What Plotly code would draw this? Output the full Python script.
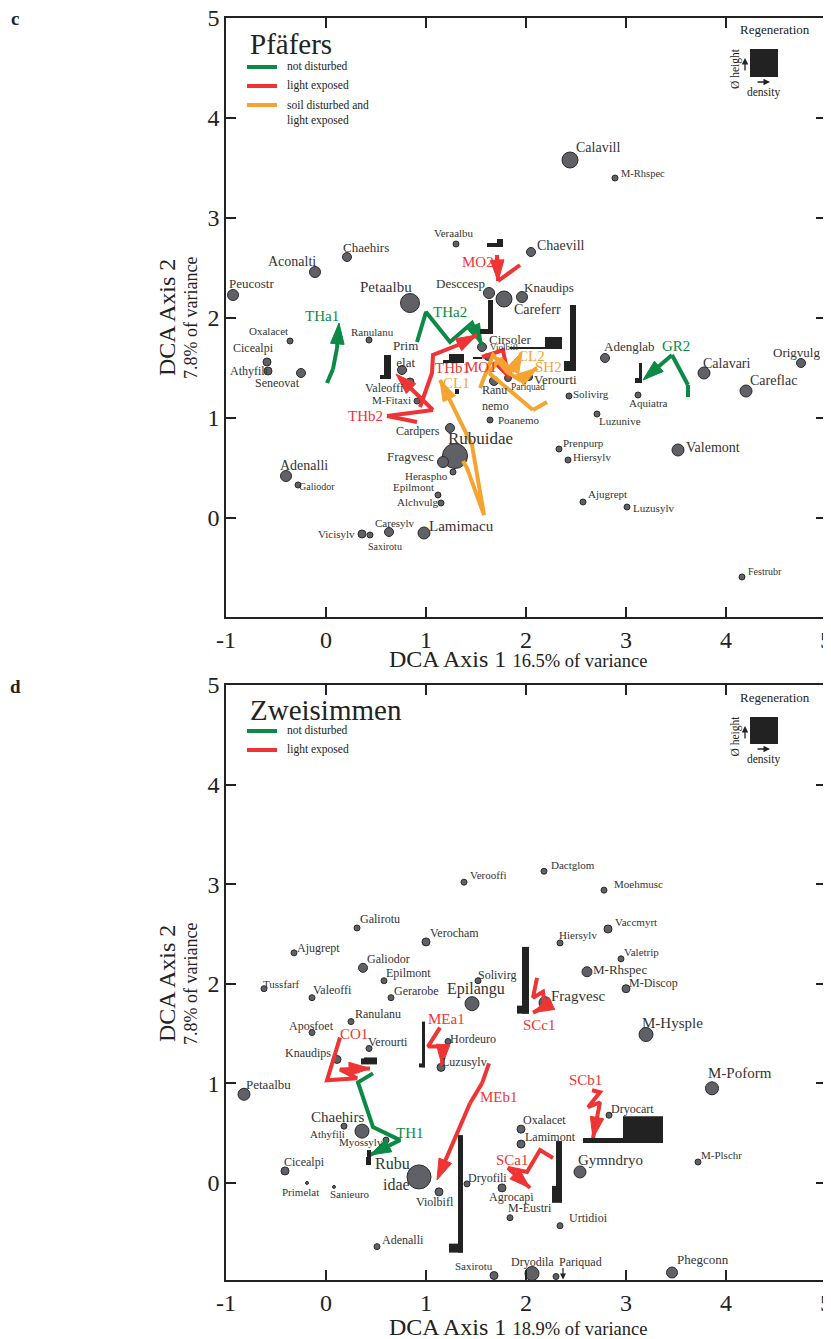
import plotly.graph_objects as go

W, H = 831, 1339          # browser window
OFF = 8                   # default page margin around the plot div
FW, FH = W - OFF, H - OFF # figure size so that it fills the window
SERIF = "Liberation Serif"

# ---------------- tick labels ----------------
tick_vals = [-1, 0, 1, 2, 3, 4, 5]
tick_text = ["-1", "0", "1", "2", "3", "4", "5"]

# ---------------- DATA: panel c (Pfäfers) ----------------
c_species = ["Calavill", "M-Rhspec", "Veraalbu", "Chaevill", "Chaehirs", "Aconalti", "Peucostr",
             "Petaalbu", "Desccesp", "Careferr", "Knaudips", "Oxalacet", "Ranulanu", "Cicealpi",
             "Athyfili", "Seneovat", "Prim<br>elat", "Valeoffi", "M-Fitaxi", "Cirsoler", "Violbifl",
             "Ranu<br>nemo", "Pariquad", "Verourti", "Poanemo", "Solivirg", "Luzunive", "Adenglab",
             "Aquiatra", "Calavari", "Careflac", "Origvulg", "Valemont", "Prenpurp", "Hiersylv",
             "Ajugrept", "Luzusylv", "Festrubr", "Cardpers", "Rubuidae", "Fragvesc", "Heraspho",
             "Epilmont", "Alchvulg", "Lamimacu", "Caresylv", "Saxirotu", "Vicisylv", "Adenalli",
             "Galiodor"]
c_x = [2.44, 2.89, 1.30, 2.05, 0.21, -0.11, -0.93, 0.84, 1.63, 1.78, 1.96, -0.36, 0.43, -0.59,
       -0.58, -0.25, 0.76, 0.84, 0.91, 1.56, 1.62, 1.68, 1.82, 2.03, 1.64, 2.43, 2.71, 2.79,
       3.12, 3.78, 4.20, 4.75, 3.52, 2.33, 2.42, 2.57, 3.01, 4.16, 1.24, 1.29, 1.17, 1.27,
       1.12, 1.15, 0.98, 0.63, 0.44, 0.36, -0.40, -0.28]
c_y = [3.58, 3.40, 2.74, 2.66, 2.61, 2.46, 2.23, 2.15, 2.25, 2.19, 2.21, 1.77, 1.78, 1.56,
       1.47, 1.45, 1.48, 1.36, 1.17, 1.71, 1.61, 1.37, 1.40, 1.41, 0.98, 1.22, 1.04, 1.60,
       1.23, 1.45, 1.27, 1.55, 0.68, 0.69, 0.58, 0.16, 0.11, -0.59, 0.90, 0.62, 0.56, 0.46,
       0.23, 0.15, -0.15, -0.14, -0.17, -0.16, 0.42, 0.33]
c_abund = [16, 6, 6, 9, 9, 11, 11, 19, 11, 16, 11, 6, 6, 8, 8, 9, 9, 8, 6, 9, 7, 9, 7, 7, 6, 6,
           6, 9, 6, 12, 12, 9, 12, 6, 6, 6, 6, 6, 9, 25, 11, 6, 6, 6, 12, 9, 6, 8, 11, 6]

# trajectories (sample plots over time), panel c
c_traj_names = ["THa1", "THa2", "GR2", "MO2", "THb1", "MO1", "THb2", "CL1", "CL2", "SH2"]
c_traj_group = ["nd", "nd", "nd", "le", "le", "le", "le", "sd", "sd", "sd"]
c_traj_x = [[0.01, 0.07, 0.11, 0.13],
            [0.91, 1.00, 1.24, 1.46, 1.56],
            [3.62, 3.62, 3.46, 3.17],
            [1.94, 1.72, 1.71, 1.72],
            [0.94, 1.06, 1.07, 1.32, 1.51],
            [1.56, 1.77, 1.81, 1.67],
            [0.91, 0.61, 1.07, 0.70],
            [1.37, 1.41, 1.58, 1.46, 1.14],
            [2.21, 2.07, 1.63, 1.74, 1.86, 1.96],
            [1.54, 1.67, 1.81, 1.94, 2.11]]
c_traj_y = [[1.35, 1.49, 1.70, 1.95],
            [1.76, 2.06, 1.76, 1.95, 1.73],
            [1.21, 1.33, 1.63, 1.38],
            [2.53, 2.37, 2.63, 2.37],
            [1.11, 1.45, 1.63, 1.73, 1.83],
            [1.61, 1.68, 1.48, 1.55],
            [0.96, 1.02, 1.08, 1.44],
            [0.57, 0.50, 0.03, 0.73, 1.38],
            [1.16, 1.08, 1.45, 1.60, 1.46, 1.66],
            [1.30, 1.63, 1.46, 1.38, 1.50]]
c_traj_lx = [-0.04, 1.24, 3.50, 1.52, 1.26, 1.55, 0.39, 1.30, 2.05, 2.22]
c_traj_ly = [2.02, 2.06, 1.72, 2.56, 1.50, 1.51, 1.02, 1.35, 1.62, 1.51]

# regeneration bars (x0, x1, y0, y1) in ordination units, panel c
c_regen_x0 = [1.61, 1.71, 1.62, 1.54, 1.84, 2.19, 2.44, 2.38, 1.17, 1.23, 1.47, 1.29, 0.58, 0.54, 3.13, 3.09]
c_regen_x1 = [1.71, 1.77, 1.67, 1.67, 2.19, 2.36, 2.50, 2.44, 1.23, 1.38, 1.56, 1.33, 0.65, 0.65, 3.16, 3.13]
c_regen_y0 = [2.71, 2.71, 1.85, 1.84, 1.69, 1.69, 1.47, 1.47, 1.55, 1.55, 1.59, 1.24, 1.39, 1.39, 1.35, 1.35]
c_regen_y1 = [2.75, 2.79, 2.18, 1.89, 1.71, 1.81, 2.13, 1.57, 1.58, 1.64, 1.61, 1.29, 1.63, 1.43, 1.55, 1.40]

# ---------------- DATA: panel d (Zweisimmen) ----------------
d_species = ["Verooffi", "Dactglom", "Moehmusc", "Vaccmyrt", "Hiersylv", "Valetrip", "M-Rhspec",
             "M-Discop", "Fragvesc", "M-Hysple", "Galirotu", "Verocham", "Ajugrept", "Galiodor",
             "Epilmont", "Solivirg", "Tussfarf", "Valeoffi", "Gerarobe", "Epilangu", "Ranulanu",
             "Aposfoet", "Verourti", "Knaudips", "Hordeuro", "Luzusylv", "Petaalbu", "Chaehirs",
             "Athyfili", "Myossylv", "Cicealpi", "Primelat", "Sanieuro", "Rubu<br>idae", "Violbifl",
             "Adenalli", "Saxirotu", "Dryofili", "Agrocapi", "Oxalacet", "Lamimont", "Dryocart",
             "Gymndryo", "M-Poform", "M-Plschr", "M-Eustri", "Urtidioi", "Dryodila", "Pariquad",
             "Phegconn"]
d_x = [1.38, 2.18, 2.78, 2.82, 2.34, 2.95, 2.61, 3.00, 2.19, 3.20, 0.31, 1.00, -0.32, 0.37,
       0.58, 1.52, -0.62, -0.14, 0.65, 1.46, 0.25, -0.14, 0.43, 0.11, 1.22, 1.15, -0.82, 0.36,
       0.18, 0.60, -0.41, -0.19, 0.08, 0.93, 1.13, 0.51, 1.68, 1.41, 1.76, 1.95, 1.95, 2.83,
       2.54, 3.86, 3.72, 1.84, 2.34, 2.06, 2.30, 3.46]
d_y = [3.02, 3.13, 2.94, 2.55, 2.41, 2.25, 2.12, 1.95, 1.81, 1.49, 2.56, 2.42, 2.31, 2.16,
       2.03, 2.03, 1.95, 1.86, 1.86, 1.80, 1.62, 1.51, 1.35, 1.24, 1.42, 1.16, 0.89, 0.52,
       0.57, 0.43, 0.12, 0.00, -0.04, 0.06, -0.09, -0.64, -0.93, -0.01, -0.05, 0.54, 0.39, 0.68,
       0.11, 0.95, 0.21, -0.35, -0.43, -0.91, -0.94, -0.90]
d_abund = [6, 6, 6, 8, 6, 6, 10, 8, 12, 14, 6, 8, 6, 9, 6, 6, 6, 6, 6, 14, 6, 6, 6, 8, 6, 8, 12,
           14, 6, 6, 8, 3, 3, 24, 8, 6, 8, 6, 8, 8, 8, 6, 12, 13, 6, 6, 6, 14, 6, 11]

d_traj_names = ["TH1", "CO1", "MEa1", "MEb1", "SCc1", "SCb1", "SCa1"]
d_traj_group = ["nd", "le", "le", "le", "le", "le", "le"]
d_traj_x = [[0.47, 0.32, 0.47, 0.74, 0.44],
            [0.14, 0.01, 0.31, 0.14, 0.44],
            [1.14, 1.02, 1.17, 1.16],
            [1.63, 1.56, 1.44, 1.11],
            [2.11, 2.07, 2.17, 2.19, 2.07],
            [2.66, 2.74, 2.62, 2.74, 2.67],
            [2.27, 2.14, 2.01, 1.82, 2.04]]
d_traj_y = [[1.10, 1.01, 0.56, 0.43, 0.28],
            [1.46, 1.03, 1.05, 1.14, 1.15],
            [1.56, 1.37, 1.37, 1.18],
            [1.20, 1.00, 0.80, 0.03],
            [2.06, 1.86, 1.92, 1.77, 1.71],
            [0.93, 0.91, 0.76, 0.81, 0.45],
            [0.25, 0.33, 0.11, 0.15, -0.05]]
d_traj_lx = [0.84, 0.28, 1.20, 1.73, 2.13, 2.59, 1.86]
d_traj_ly = [0.50, 1.50, 1.65, 0.86, 1.59, 1.03, 0.23]

d_regen_x0 = [1.96, 1.91, 0.96, 0.93, 0.35, 0.38, 0.41, 0.40, 1.32, 1.23, 2.30, 2.26, 2.57, 2.97]
d_regen_x1 = [2.03, 2.03, 0.99, 0.99, 0.38, 0.51, 0.45, 0.45, 1.37, 1.37, 2.36, 2.30, 2.97, 3.37]
d_regen_y0 = [1.70, 1.70, 1.16, 1.16, 1.19, 1.19, 0.18, 0.18, -0.70, -0.70, -0.20, -0.20, 0.40, 0.40]
d_regen_y1 = [2.37, 1.78, 1.62, 1.20, 1.25, 1.26, 0.33, 0.26, 0.48, -0.61, 0.42, -0.03, 0.45, 0.67]

# ---------------- STYLE (label placement in px, font sizes) ----------------
c_lab_dx = [28, 28, -2, 30, 19, -23, 19, -24, -29, 33, 27, -22, 3, -14, -19, -24, 3, -26, -26, 28,
            16, 1, 20, 26, 28, 22, 23, 24, 10, 23, 27, -5, 35, 24, 24, 24, 26, 23, -32, 25, -33,
            -27, -25, -24, 37, 6, 15, -26, 18, 19]
c_lab_dy = [-13, -5, -11, -7, -10, -11, -12, -16, -10, 10, -10, -10, -8, -14, 0, 10, -16, 6, -1, -8,
            -10, 17, 9, 2, 0, -2, 7, -12, 8, -10, -11, -11, -3, -6, -3, -8, 1, -6, 3, -18, -6,
            4, -8, -1, -7, -9, 11, 0, -11, 1]
c_lab_fs = [14, 10.5, 11, 14, 13, 14, 13, 15, 13, 14, 13, 11, 11, 12, 12, 12, 13, 12, 11, 13, 9, 12,
            9.5, 13, 11, 11, 11, 13, 11, 14, 14, 13, 14, 11, 11, 11, 11, 10, 12, 17, 13, 11, 11, 11,
            15, 11, 10, 11, 14, 10]

d_lab_dx = [24, 29, 34, 28, 18, 20, 33, 27, 33, 26, 23, 28, 24, 25, 24, 19, 17, 20, 25, 4, 27, -1,
            19, -29, 25, 23, 24, -25, -17, -25, 19, -7, 16, -27, -4, 26, -20, 20, 9, 23, 29, 23, 30,
            28, 23, 20, 28, 0, 24, 31]
d_lab_dy = [-7, -6, -6, -7, -8, -7, -2, -6, -7, -12, -9, -9, -5, -9, -8, -6, -5, -8, -7, -15, -8, -7,
            -6, -6, -3, -5, -10, -14, 8, 2, -9, 9, 7, -3, 10, -7, -10, -6, 9, -9, -7, -6, -12, -15,
            -7, -10, -8, -12, -15, -13]
d_lab_fs = [11, 11, 11, 11, 11, 11, 13, 12, 15, 15, 12, 12, 12, 12, 12, 12, 11, 12, 12, 16, 12, 12,
            12, 12, 12, 12, 13, 15, 11, 11, 12, 11, 11, 16, 12, 12, 11, 12, 12, 12, 12, 12, 15, 15,
            11, 12, 12, 12, 12, 13]
LAB_ALIGN = {"Ranu<br>nemo": "left", "Rubu<br>idae": "right"}

COL = {"nd": "#0b8a45", "le": "#ee3434", "sd": "#f6a431"}
PT_FILL = "#5f6166"
PT_LINE = "#2b2b2b"
INK = "#222222"

# ---------------- FIGURE ----------------
fig = go.Figure()


def pxx(px):
    return (px - OFF) / FW


def pxy(py):
    return 1 - (py - OFF) / FH


panels = [
    dict(xa="x", ya="y", sp=c_species, x=c_x, y=c_y, ab=c_abund, dx=c_lab_dx, dy=c_lab_dy, fs=c_lab_fs,
         tn=c_traj_names, tg=c_traj_group, tx=c_traj_x, ty=c_traj_y, lx=c_traj_lx, ly=c_traj_ly,
         rx0=c_regen_x0, rx1=c_regen_x1, ry0=c_regen_y0, ry1=c_regen_y1),
    dict(xa="x2", ya="y2", sp=d_species, x=d_x, y=d_y, ab=d_abund, dx=d_lab_dx, dy=d_lab_dy, fs=d_lab_fs,
         tn=d_traj_names, tg=d_traj_group, tx=d_traj_x, ty=d_traj_y, lx=d_traj_lx, ly=d_traj_ly,
         rx0=d_regen_x0, rx1=d_regen_x1, ry0=d_regen_y0, ry1=d_regen_y1),
]

annotations = []
shapes = []

for p in panels:
    xa, ya = p["xa"], p["ya"]
    # regeneration bars
    for a, b, c, d in zip(p["rx0"], p["rx1"], p["ry0"], p["ry1"]):
        shapes.append(dict(type="rect", xref=xa, yref=ya, x0=a, x1=b, y0=c, y1=d,
                           fillcolor=INK, line=dict(width=0), layer="above"))
    # species points
    fig.add_trace(go.Scatter(x=p["x"], y=p["y"], mode="markers", xaxis=xa, yaxis=ya,
                             marker=dict(size=p["ab"], color=PT_FILL, opacity=1,
                                         line=dict(color=PT_LINE, width=1)),
                             hoverinfo="text", text=p["sp"], showlegend=False))
    for name, x, y, dx, dy, fs in zip(p["sp"], p["x"], p["y"], p["dx"], p["dy"], p["fs"]):
        annotations.append(dict(x=x, y=y, xref=xa, yref=ya, text=name, showarrow=False,
                                xshift=dx, yshift=-dy, xanchor="center", yanchor="middle",
                                align=LAB_ALIGN.get(name, "center"),
                                font=dict(family=SERIF, size=fs, color="#333333")))
    # trajectories
    for name, g, tx, ty, lx, ly in zip(p["tn"], p["tg"], p["tx"], p["ty"], p["lx"], p["ly"]):
        n = len(tx)
        fig.add_trace(go.Scatter(x=tx, y=ty, mode="lines+markers", xaxis=xa, yaxis=ya,
                                 line=dict(color=COL[g], width=4),
                                 marker=dict(symbol="arrow", angleref="previous", opacity=1,
                                             size=[0] * (n - 1) + [22], color=COL[g],
                                             line=dict(width=1, color=COL[g])),
                                 hoverinfo="skip", showlegend=False))
        annotations.append(dict(x=lx, y=ly, xref=xa, yref=ya, text=name, showarrow=False,
                                xanchor="center", yanchor="middle",
                                font=dict(family=SERIF, size=15, color=COL[g])))

# ---------------- AXES ----------------
axis_common = dict(showgrid=False, zeroline=False, showline=True, linecolor=INK, linewidth=1.5,
                   mirror="ticks", ticks="inside", ticklen=10, tickwidth=1.5, tickcolor=INK,
                   automargin=False, ticklabeloverflow="allow",
                   tickmode="array", tickvals=tick_vals, ticktext=tick_text,
                   tickfont=dict(family=SERIF, size=24, color=INK))

fig.update_layout(
    template="none",
    width=FW, height=FH, margin=dict(l=0, r=0, t=0, b=0, pad=0), autosize=False,
    paper_bgcolor="white", plot_bgcolor="white", showlegend=False,
    xaxis=dict(axis_common, domain=[pxx(226), pxx(826)], range=[-1, 5], anchor="y"),
    yaxis=dict(axis_common, domain=[pxy(617), pxy(18)], range=[-0.99, 5], anchor="x"),
    xaxis2=dict(axis_common, domain=[pxx(226), pxx(826)], range=[-1, 5], anchor="y2"),
    yaxis2=dict(axis_common, domain=[pxy(1280), pxy(685)], range=[-0.975, 5], anchor="x2"),
)


def ptext(px, py, text, size, color=INK, xanchor="center", yanchor="middle", angle=0, **kw):
    annotations.append(dict(x=pxx(px), y=pxy(py), xref="paper", yref="paper", text=text,
                            showarrow=False, xanchor=xanchor, yanchor=yanchor, textangle=angle,
                            font=dict(family=SERIF, size=size, color=color), **kw))


# axis titles
for (xt, yt, pct1, pct2) in [(659, 318, "16.5% of variance", "7.8% of variance"),
                             (1327, 984, "18.9% of variance", "7.8% of variance")]:
    ptext(518, xt, "DCA Axis 1 <span style='font-size:18.5px'>" + pct1 + "</span>", 24)
    ptext(167, yt, "DCA Axis 2", 24, angle=-90)
    ptext(191, yt, pct2, 18, angle=-90)

# panel letters
ptext(15, 18, "<b>c</b>", 19)
ptext(15, 686, "<b>d</b>", 19)

# site titles and legends
legend_sets = [
    (44, "Pfäfers", [("nd", "not disturbed"), ("le", "light exposed"),
                     ("sd", "soil disturbed and<br>light exposed")], 67),
    (710, "Zweisimmen", [("nd", "not disturbed"), ("le", "light exposed")], 731),
]
for ty, title, items, y0 in legend_sets:
    ptext(248, ty, title, 29, xanchor="left")
    for i, (g, lab) in enumerate(items):
        yy = y0 + 19 * i
        shapes.append(dict(type="line", xref="paper", yref="paper", x0=pxx(247), x1=pxx(277),
                           y0=pxy(yy), y1=pxy(yy), line=dict(color=COL[g], width=4)))
        if "<br>" in lab:
            ptext(285, yy - 8, lab, 11.5, xanchor="left", yanchor="top", align="left")
        else:
            ptext(285, yy - 1, lab, 11.5, xanchor="left")

# regeneration key
for ry, sq_top, sq_bot in [(30, 49, 77), (697, 717, 744)]:
    ptext(775, ry, "Regeneration", 13)
    shapes.append(dict(type="rect", xref="paper", yref="paper", x0=pxx(750), x1=pxx(778),
                       y0=pxy(sq_bot), y1=pxy(sq_top), fillcolor=INK, line=dict(width=0)))
    ptext(735, (sq_top + sq_bot) / 2 + 6, "Ø height", 11.5, angle=-90)
    ptext(763, sq_bot + 15, "density", 11.5)
    annotations.append(dict(x=pxx(745), y=pxy(sq_top + 9), ax=0, ay=14,
                            xref="paper", yref="paper", axref="pixel", ayref="pixel", text="",
                            showarrow=True, arrowhead=2, arrowsize=1, arrowwidth=1.3, arrowcolor=INK))
    annotations.append(dict(x=pxx(770), y=pxy(sq_bot + 5), ax=-14, ay=0,
                            xref="paper", yref="paper", axref="pixel", ayref="pixel", text="",
                            showarrow=True, arrowhead=2, arrowsize=1, arrowwidth=1.3, arrowcolor=INK))

# Pariquad out-of-range pointer (panel d)
annotations.append(dict(x=2.37, y=-0.97, ax=0, ay=-13, xref="x2", yref="y2", axref="pixel", ayref="pixel",
                        text="", showarrow=True, arrowhead=2, arrowsize=1, arrowwidth=1.2, arrowcolor=INK))

fig.update_layout(annotations=annotations, shapes=shapes)
fig.write_html("out.html")
